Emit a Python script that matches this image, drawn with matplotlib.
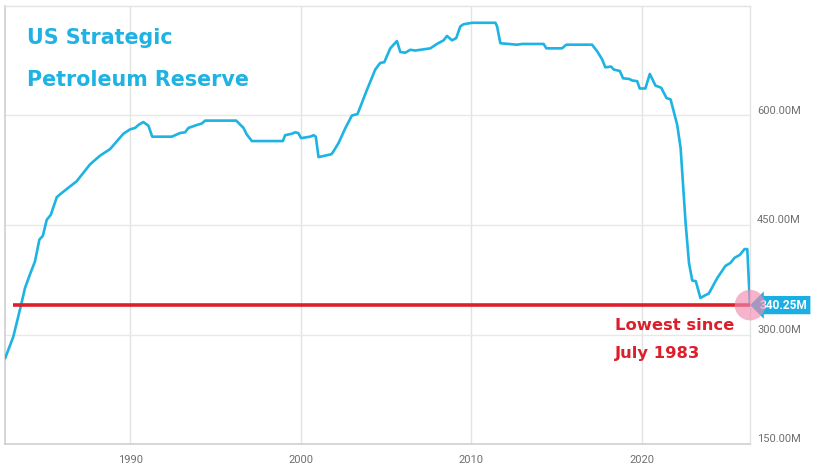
import matplotlib
matplotlib.use("Agg")
import matplotlib.pyplot as plt

# ---- data (millions of barrels) ----
years = [1982.66, 1983.13, 1983.56, 1983.82, 1984.15, 1984.40, 1984.66, 1984.86, 1985.09, 1985.33,
         1985.68, 1985.87, 1986.85, 1987.63, 1988.22, 1988.81, 1989.59, 1989.98, 1990.28, 1990.47,
         1990.76, 1991.06, 1991.28, 1992.43, 1992.92, 1993.21, 1993.41, 1993.90, 1994.19, 1994.39,
         1996.21, 1996.64, 1996.83, 1997.13, 1998.95, 1999.08, 1999.48, 1999.67, 1999.85, 2000.02,
         2000.55, 2000.75, 2000.88, 2001.04, 2001.80, 2001.92, 2002.21, 2002.60, 2003.00, 2003.33,
         2003.88, 2004.37, 2004.66, 2004.90, 2005.25, 2005.64, 2005.84, 2006.13, 2006.42, 2006.72,
         2007.60, 2007.99, 2008.38, 2008.58, 2008.87, 2009.12, 2009.36, 2009.55, 2010.05, 2011.42,
         2011.52, 2011.71, 2012.69, 2013.00, 2014.25, 2014.41, 2015.33, 2015.58, 2017.09, 2017.39,
         2017.68, 2017.87, 2018.21, 2018.36, 2018.72, 2018.91, 2019.28, 2019.44, 2019.74, 2019.89,
         2020.22, 2020.48, 2020.81, 2021.15, 2021.46, 2021.70, 2022.09, 2022.29, 2022.58, 2022.78,
         2022.97, 2023.18, 2023.45, 2023.75, 2023.94, 2024.43, 2024.92, 2025.21, 2025.45, 2025.76,
         2026.04, 2026.20, 2026.36]
reserve = [268, 297, 338, 364, 385, 400, 430, 435, 457, 464,
           488, 492, 510, 533, 545, 554, 575, 581, 583, 587,
           591, 586, 571, 571, 576, 577, 583, 587, 589, 593,
           593, 583, 574, 565, 565, 573, 575, 577, 576, 569,
           571, 573, 571, 543, 547, 551, 562, 582, 600, 602,
           635, 663, 672, 673, 692, 702, 687, 686, 690, 689,
           692, 698, 703, 709, 703, 706, 722, 725, 727, 727,
           722, 699, 697, 698, 698, 692, 692, 697, 697, 688,
           677, 666, 667, 663, 661, 651, 650, 648, 647, 637,
           637, 657, 641, 638, 624, 622, 587, 555, 453, 398,
           374, 373, 350, 354, 356, 377, 394, 398, 405, 409,
           417, 417, 340.25]

last_value = 340.25
x_ticks = [1990, 2000, 2010, 2020]
x_tick_labels = ["1990", "2000", "2010", "2020"]
y_ticks = [150, 300, 450, 600]
y_tick_labels = ["150.00M", "300.00M", "450.00M", "600.00M"]
title_lines = "US Strategic\nPetroleum Reserve"
note_lines = "Lowest since\nJuly 1983"

CYAN = "#1db3e3"
RED = "#dc1f2b"

fig = plt.figure(figsize=(8.4, 4.69), dpi=100)
ax = fig.add_axes([5.3 / 840, 25 / 469, (750 - 5.3) / 840, (444 - 6) / 469])
ax.set_xlim(1982.66, 2026.36)
ax.set_ylim(150, 750)
W = 744.7
H = 438.0

# grid
for xt in x_ticks:
    ax.axvline(xt, color="#e3e3e3", lw=1.0, zorder=0)
for yt in y_ticks[1:]:
    ax.axhline(yt, color="#e8e8e8", lw=1.0, zorder=0)

for s in ["left", "bottom"]:
    ax.spines[s].set_color("#cfcfcf")
    ax.spines[s].set_linewidth(1.2)
for s in ["top", "right"]:
    ax.spines[s].set_color("#e3e3e3")
    ax.spines[s].set_linewidth(1.0)

ax.plot(years, reserve, color=CYAN, lw=1.9, zorder=3, solid_joinstyle="round")

# red reference line
ax.plot([1983.1, years[-1]], [last_value, last_value], color=RED, lw=2.6, zorder=4,
        solid_capstyle="butt")

# ticks
ax.set_xticks(x_ticks)
ax.set_xticklabels(x_tick_labels)
ax.set_yticks([])
ax.tick_params(axis="x", length=0, pad=8, labelsize=8, labelcolor="#6f6f6f")
for lbl in ax.get_xticklabels():
    lbl.set_fontfamily("Roboto")

trans = ax.get_yaxis_transform()
for yt, lab in zip(y_ticks, y_tick_labels):
    ax.text(1.0 + 7 / W, yt + 5 * 600 / H, lab, transform=trans, ha="left", va="center",
            fontsize=8, color="#6f6f6f", family="Roboto", clip_on=False)

# last value label
ax.text(1.0 + 10 / W, last_value, f"{last_value:.2f}M", transform=trans, ha="left", va="center",
        fontsize=8.6, color="white", family="Roboto", fontweight="bold", zorder=6, clip_on=False,
        bbox=dict(boxstyle="larrow,pad=0.22", fc="#1aaee2", ec="none"))

# pink marker circle
ax.scatter([years[-1]], [last_value], s=22 ** 2, color="#f08cb0", alpha=0.65, zorder=7,
           clip_on=False, edgecolors="none")

# annotations
ax.text((27 - 5.3) / W, 1 - 22 / H, title_lines, transform=ax.transAxes, ha="left", va="top",
        fontsize=14.9, color="#1fb3e3", family="DejaVu Sans", fontweight="bold",
        linespacing=2.35)
ax.text((615 - 5.3) / W, 1 - (318 - 6) / H, note_lines, transform=ax.transAxes,
        ha="left", va="top", fontsize=11.8, color=RED, family="DejaVu Sans", fontweight="bold",
        linespacing=2.05)

fig.savefig("out.png", dpi=100, facecolor="white")
